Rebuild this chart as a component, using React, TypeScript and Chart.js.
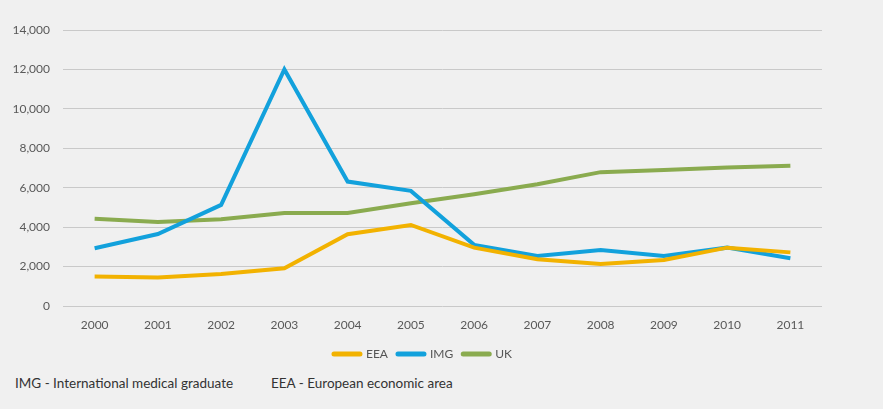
import React, { useEffect, useRef } from "react";
import { Chart, registerables } from "chart.js";

Chart.register(...registerables);

const years = ["2000", "2001", "2002", "2003", "2004", "2005", "2006", "2007", "2008", "2009", "2010", "2011"];
const eeaValues = [1500, 1450, 1620, 1910, 3640, 4110, 2960, 2370, 2130, 2330, 2960, 2720];
const imgValues = [2930, 3650, 5130, 12000, 6310, 5840, 3100, 2540, 2840, 2540, 2960, 2420];
const ukValues = [4420, 4260, 4400, 4720, 4720, 5210, 5670, 6180, 6790, 6900, 7020, 7120];
const yMax = 14000;
const yStep = 2000;
const footnotes = ["IMG - International medical graduate", "EEA - European economic area"];

const FONT = "Lato, 'Open Sans', sans-serif";

const legendShift = {
  id: "legendShift",
  afterLayout(chart: any) {
    if (chart.legend) {
      chart.legend.left += 12;
      chart.legend.right += 12;
    }
  },
};

export default function App() {
  const canvasRef = useRef<HTMLCanvasElement | null>(null);

  useEffect(() => {
    if (!canvasRef.current) return;
    const chart = new Chart(canvasRef.current, {
      type: "line",
      data: {
        labels: years,
        datasets: [
          { label: "EEA", data: eeaValues, borderColor: "#f2b200", backgroundColor: "#f2b200", borderWidth: 4, pointRadius: 0, tension: 0 },
          { label: "IMG", data: imgValues, borderColor: "#12a1dc", backgroundColor: "#12a1dc", borderWidth: 4, pointRadius: 0, tension: 0 },
          { label: "UK", data: ukValues, borderColor: "#8aab4f", backgroundColor: "#8aab4f", borderWidth: 4, pointRadius: 0, tension: 0 },
        ],
      },
      plugins: [legendShift],
      options: {
        responsive: false,
        animation: false,
        layout: { padding: { top: 30, left: 0, right: 61, bottom: 2 } },
        plugins: {
          tooltip: { enabled: false },
          legend: {
            position: "bottom",
            labels: {
              usePointStyle: true,
              pointStyle: "line",
              pointStyleWidth: 26,
              boxHeight: 12,
              padding: 10,
              color: "#555555",
              font: { family: FONT, size: 12 },
              generateLabels: (c: any) =>
                (Chart.defaults.plugins.legend.labels.generateLabels as any)(c).map((l: any) => ({
                  ...l,
                  lineWidth: 5,
                  lineCap: "round",
                })),
            },
          },
        },
        scales: {
          x: {
            offset: true,
            grid: { display: false, drawTicks: false },
            border: { display: false },
            ticks: { color: "#595959", font: { family: FONT, size: 12 }, padding: 12, maxRotation: 0 },
            afterFit: (s: any) => { s.height = 32; },
          },
          y: {
            min: 0,
            max: yMax,
            ticks: {
              stepSize: yStep,
              color: "#595959",
              padding: 13,
              font: { family: FONT, size: 12 },
              callback: (v: any) => Number(v).toLocaleString("en-US"),
            },
            grid: { color: "#c9c9c9", drawTicks: false, lineWidth: 1 },
            border: { display: false },
            afterFit: (s: any) => { s.width = 63; },
          },
        },
      },
    });
    return () => chart.destroy();
  }, []);

  return (
    <div style={{ position: "fixed", left: 0, top: 0, width: 883, height: 409, background: "#f0f0f0", overflow: "hidden" }}>
      <canvas ref={canvasRef} width={883} height={372} style={{ position: "absolute", left: 0, top: 0 }} />
      <div style={{ position: "absolute", left: 15, top: 375, fontFamily: FONT, fontSize: 13.5, color: "#333333", whiteSpace: "nowrap" }}>
        {footnotes[0]}
      </div>
      <div style={{ position: "absolute", left: 271, top: 375, fontFamily: FONT, fontSize: 13.5, color: "#333333", whiteSpace: "nowrap" }}>
        {footnotes[1]}
      </div>
    </div>
  );
}
